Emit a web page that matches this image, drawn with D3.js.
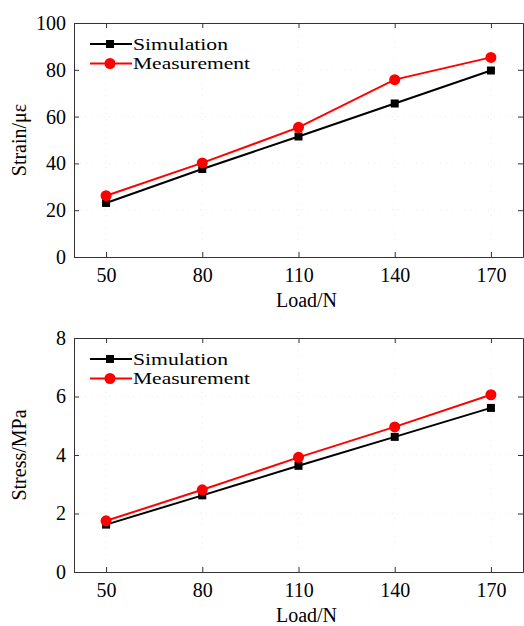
<!DOCTYPE html>
<html>
<head>
<meta charset="utf-8">
<script src="https://cdn.jsdelivr.net/npm/d3@7"></script>
<style>
  body { margin: 0; background: #fff; }
  svg { display: block; font-family: "Liberation Serif", "Times New Roman", serif; }
</style>
</head>
<body>
<div id="chart"></div>
<script>
// Data
const loads = [50, 80, 110, 140, 170];
const xTicks = [50, 80, 110, 140, 170];

const strainSimulation = [23.1, 37.6, 51.5, 65.6, 79.7];
const strainMeasurement = [26.2, 40.2, 55.4, 75.8, 85.3];
const strainTicks = [0, 20, 40, 60, 80, 100];

const stressSimulation = [1.62, 2.62, 3.63, 4.62, 5.61];
const stressMeasurement = [1.75, 2.81, 3.92, 4.96, 6.06];
const stressTicks = [0, 2, 4, 6, 8];

const seriesNames = ["Simulation", "Measurement"];

const width = 524;
const height = 626;

const svg = d3.select("#chart")
  .append("svg")
    .attr("width", width)
    .attr("height", height)
    .attr("viewBox", [0, 0, width, height]);

function panel(opts) {
  const left = 74, right = 523;
  const x = d3.scaleLinear().domain([40, 180]).range([left, right]);
  const y = d3.scaleLinear().domain(opts.yDomain).range([opts.bottom, opts.top]);

  const g = svg.append("g");

  // faint dotted grid
  g.append("g")
      .attr("stroke", "#ededed")
      .attr("stroke-dasharray", "1,5")
    .selectAll("line")
    .data(xTicks)
    .join("line")
      .attr("x1", d => x(d)).attr("x2", d => x(d))
      .attr("y1", opts.top).attr("y2", opts.bottom);
  g.append("g")
      .attr("stroke", "#ededed")
      .attr("stroke-dasharray", "1,5")
    .selectAll("line")
    .data(opts.yTicks.slice(1, -1))
    .join("line")
      .attr("x1", left).attr("x2", right)
      .attr("y1", d => y(d)).attr("y2", d => y(d));

  // axes, ticks pointing inward, mirrored on all sides
  const axisColor = "#333";
  const styleAxis = a => a.call(s => s.selectAll("path, line").attr("stroke", axisColor))
      .call(s => s.selectAll("text")
        .attr("fill", "#000")
        .attr("font-size", 20)
        .attr("font-family", "Liberation Serif, Times New Roman, serif"));

  g.append("g")
      .attr("transform", `translate(0,${opts.bottom})`)
      .call(d3.axisBottom(x).tickValues(xTicks).tickSize(-5).tickSizeOuter(0).tickPadding(11))
      .call(styleAxis);
  g.append("g")
      .attr("transform", `translate(0,${opts.top})`)
      .call(d3.axisTop(x).tickValues(xTicks).tickSize(-5).tickSizeOuter(0).tickFormat(""))
      .call(styleAxis);
  g.append("g")
      .attr("transform", `translate(${left},0)`)
      .call(d3.axisLeft(y).tickValues(opts.yTicks).tickSize(-5).tickSizeOuter(0).tickPadding(8))
      .call(styleAxis);
  g.append("g")
      .attr("transform", `translate(${right},0)`)
      .call(d3.axisRight(y).tickValues(opts.yTicks).tickSize(-5).tickSizeOuter(0).tickFormat(""))
      .call(styleAxis);

  // axis labels
  g.append("text")
      .attr("x", (left + right) / 2 + 8)
      .attr("y", opts.bottom + 50)
      .attr("text-anchor", "middle")
      .attr("font-size", 20)
      .text("Load/N");
  g.append("text")
      .attr("transform", `translate(26,${(opts.top + opts.bottom) / 2}) rotate(-90)`)
      .attr("text-anchor", "middle")
      .attr("font-size", 20)
      .text(opts.yLabel);

  const line = d3.line().x((d, i) => x(loads[i])).y(d => y(d));

  // simulation: black squares
  g.append("path")
      .datum(opts.sim)
      .attr("fill", "none")
      .attr("stroke", "#000")
      .attr("stroke-width", 2)
      .attr("d", line);
  g.append("g")
    .selectAll("rect")
    .data(opts.sim)
    .join("rect")
      .attr("x", (d, i) => x(loads[i]) - 4)
      .attr("y", d => y(d) - 4)
      .attr("width", 8)
      .attr("height", 8)
      .attr("fill", "#000");

  // measurement: red circles
  g.append("path")
      .datum(opts.meas)
      .attr("fill", "none")
      .attr("stroke", "#ff0000")
      .attr("stroke-width", 2)
      .attr("d", line);
  g.append("g")
    .selectAll("circle")
    .data(opts.meas)
    .join("circle")
      .attr("cx", (d, i) => x(loads[i]))
      .attr("cy", d => y(d))
      .attr("r", 5.5)
      .attr("fill", "#ff0000");

  // legend
  const leg = g.append("g").attr("transform", `translate(90,${opts.top + 21})`);
  seriesNames.forEach((name, i) => {
    const row = leg.append("g").attr("transform", `translate(0,${i * 19.5})`);
    const color = i === 0 ? "#000" : "#ff0000";
    row.append("line")
        .attr("x1", 0).attr("x2", 42)
        .attr("stroke", color).attr("stroke-width", 2);
    if (i === 0) {
      row.append("rect").attr("x", 16).attr("y", -4).attr("width", 8).attr("height", 8).attr("fill", color);
    } else {
      row.append("circle").attr("cx", 20).attr("r", 5.5).attr("fill", color);
    }
    row.append("text")
        .attr("x", 43)
        .attr("dy", "0.34em")
        .attr("font-size", 17)
        .attr("textLength", i === 0 ? 95 : 117)
        .attr("lengthAdjust", "spacingAndGlyphs")
        .text(name);
  });
}

panel({
  top: 23, bottom: 257,
  yDomain: [0, 100], yTicks: strainTicks,
  yLabel: "Strain/με",
  sim: strainSimulation, meas: strainMeasurement
});

panel({
  top: 338, bottom: 572,
  yDomain: [0, 8], yTicks: stressTicks,
  yLabel: "Stress/MPa",
  sim: stressSimulation, meas: stressMeasurement
});
</script>
</body>
</html>
